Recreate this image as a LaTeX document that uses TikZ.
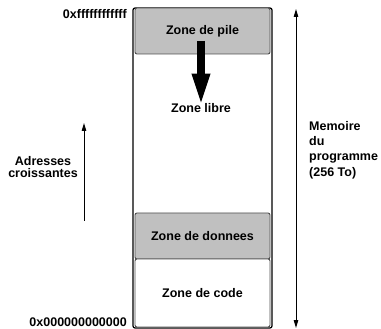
\documentclass[tikz,border=0pt]{standalone}
\usepackage{fontspec}
\setmainfont{Liberation Sans}
\usetikzlibrary{arrows.meta}
\definecolor{zonegray}{HTML}{C0C0C0}
\definecolor{zoneedge}{HTML}{505050}
\tikzset{
  lbl/.style={font=\fontsize{12.5}{15.3}\selectfont\bfseries, inner sep=0pt},
  zonebox/.style={draw=zoneedge, line width=0.9pt, rounded corners=2pt, minimum width=135pt, inner sep=0pt, font=\fontsize{12.5}{15}\selectfont\bfseries},
  thinarrow/.style={line width=1pt, -{Triangle[length=8pt,width=4.5pt]}},
}
\begin{document}
\begin{tikzpicture}[x=1pt,y=-1pt]
\useasboundingbox (0,0) rectangle (381,329);
\node[draw, line width=1.2pt, rounded corners=2pt, minimum width=139pt, minimum height=320pt, inner sep=0pt] (mem) at (202.5,168) {};
\node[zonebox, fill=zonegray, minimum height=46pt] (pile) at (202.5,31) {Zone de pile};
\node[zonebox, fill=zonegray, minimum height=46pt] (donnees) at (202.5,236) {Zone de donnees};
\node[zonebox, fill=white, minimum height=68pt] (code) at (202.5,293) {\raisebox{-2pt}{Zone de code}};
\node[lbl, inner sep=0.5pt] (libre) at (201,108) {Zone libre};
\coordinate (a1) at (201,41);
\draw[line width=8pt, -{Triangle[width=16pt,length=33pt]}, shorten >=-4pt] (a1) -- (libre.north);
\node[lbl, anchor=east] (hi) at (127,14) {0xffffffffffff};
\node[lbl, anchor=east] (lo) at (127,322.5) {0x000000000000};
\node[lbl, align=center, font=\fontsize{12.5}{11.6}\selectfont\bfseries] (adr) at (43,167) {Adresses\\croissantes};
\coordinate (l1) at (84,221);
\coordinate (l2) at (84,123);
\draw[thinarrow] (l1) -- (l2);
\coordinate (r1) at (296,9);
\coordinate (r2) at (296,328);
\draw[line width=1pt, {Triangle[length=8pt,width=4.5pt]}-{Triangle[length=8pt,width=4.5pt]}] (r1) -- (r2);
\node[lbl, align=left, anchor=west] (memo) at (309,150) {Memoire\\du\\programme\\(256 To)};
\end{tikzpicture}
\end{document}
